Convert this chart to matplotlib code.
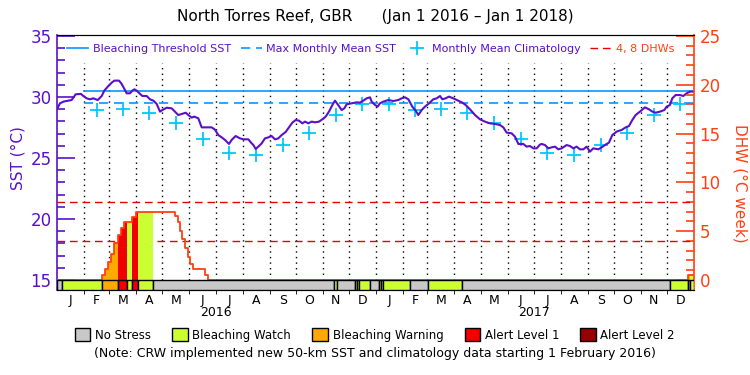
import numpy as np
import pandas as pd
import matplotlib
matplotlib.use("Agg")
from matplotlib import pyplot as plt
from matplotlib.patches import Patch
from matplotlib.ticker import FixedLocator

# Data (day 0 = Jan 1 2016)
sst_day = [0, 3.4, 7.3, 11.1, 16.8, 21.4, 27.5, 30.2, 34.0, 37.9, 41.7, 46.7, 51.3, 54.3, 58.9,
           62.7, 65.8, 71.2, 74.2, 78.0, 80.0, 83.8, 86.5, 88.8, 91.4, 95.3, 98.0, 102.9, 106.7,
           110.6, 114.4, 118.2, 120.9, 125.9, 131.6, 135.4, 139.2, 143.1, 147.7, 150.7, 154.5,
           157.6, 162.2, 166.0, 177.5, 181.3, 185.1, 189.0, 192.8, 197.4, 200.4, 205.0, 210.0,
           213.8, 219.6, 222.6, 225.3, 228.0, 231.0, 234.9, 238.7, 242.5, 246.3, 250.2, 254.0,
           257.8, 262.4, 266.2, 270.1, 273.9, 277.7, 281.5, 284.6, 288.4, 292.2, 296.1, 300.7,
           304.5, 308.3, 312.1, 316.0, 319.0, 322.1, 326.7, 329.7, 332.4, 338.1, 343.9, 347.7,
           351.5, 355.4, 359.2, 361.1, 364.9, 368.0, 370.6, 374.5, 380.2, 386.0, 391.7, 395.5,
           399.3, 403.2, 407.7, 411.6, 414.6, 418.5, 422.3, 426.9, 431.8, 435.7, 439.5, 442.2,
           446.0, 449.8, 454.8, 460.5, 465.1, 469.0, 473.9, 479.7, 485.4, 491.1, 496.9, 502.6,
           508.4, 512.2, 516.0, 521.7, 525.6, 529.4, 535.1, 538.9, 542.8, 546.6, 550.4, 554.3,
           556.2, 560.0, 563.8, 567.6, 571.5, 575.3, 579.1, 584.8, 588.7, 592.5, 596.3, 600.1,
           604.0, 607.8, 611.6, 615.4, 621.2, 625.0, 628.8, 633.4, 637.3, 642.2, 648.0, 652.6,
           656.4, 660.2, 664.0, 669.0, 674.7, 679.3, 683.2, 687.0, 692.0, 697.0, 699.6, 703.4,
           706.1, 709.9, 714.9, 718.7, 722.6, 726.4, 730.2]
sst_val = [28.99, 29.48, 29.62, 29.67, 29.75, 30.22, 30.25, 30.08, 29.89, 29.81, 29.89, 29.75, 30.08,
           30.52, 30.90, 31.17, 31.34, 31.34, 31.07, 30.57, 30.30, 30.30, 30.52, 30.63, 30.52, 30.25,
           30.08, 30.08, 29.81, 29.70, 29.43, 28.80, 28.93, 29.12, 29.07, 28.80, 28.52, 28.61, 28.71,
           28.52, 28.31, 28.39, 28.25, 27.51, 27.51, 27.32, 26.88, 26.69, 26.48, 26.15, 26.48, 26.80,
           26.61, 26.53, 26.53, 26.26, 26.07, 25.74, 25.93, 26.20, 26.61, 26.69, 26.80, 26.53, 26.61,
           26.88, 27.13, 27.51, 27.90, 28.11, 28.06, 27.84, 27.98, 27.84, 27.98, 27.92, 27.98, 28.17,
           28.39, 28.80, 29.34, 29.70, 29.40, 28.93, 29.07, 29.40, 29.48, 29.56, 29.54, 29.70, 29.89,
           29.97, 29.62, 29.35, 29.21, 29.48, 29.62, 29.75, 29.67, 29.75, 29.89, 29.97, 29.81, 29.21,
           28.88, 28.52, 28.93, 29.21, 29.48, 29.81, 29.89, 30.08, 29.81, 29.89, 30.03, 29.89, 29.70,
           29.54, 29.34, 28.99, 28.52, 28.17, 27.98, 27.84, 27.79, 27.70, 27.51, 27.08, 27.02, 26.75,
           26.15, 26.15, 25.93, 25.98, 25.79, 25.79, 26.10, 26.15, 26.06, 25.79, 25.87, 25.93, 25.71,
           25.79, 26.06, 25.98, 25.79, 25.93, 25.71, 25.71, 25.93, 25.52, 25.79, 25.71, 25.87, 26.06,
           26.26, 26.88, 27.16, 27.30, 27.51, 27.62, 28.11, 28.52, 28.80, 29.15, 28.99, 28.80, 28.71,
           28.80, 28.93, 29.21, 29.34, 29.89, 30.16, 30.16, 30.08, 30.30, 30.44, 30.44]

# monthly mean climatology, Jan..Dec
clim_val = [29.40, 28.93, 28.99, 28.71, 27.89, 26.53, 25.43, 25.25, 26.04, 27.07, 28.55, 29.45]
mmm = 29.5
threshold = 30.5

# degree heating weeks (step values starting at each day)
dhw_day = [0, 51.3, 55.0, 58.9, 62.0, 65.8, 69.6, 73.1, 76.5, 86.5, 90.3, 135.4, 138.5, 141.2,
           143.8, 146.9, 150.0, 152.6, 155.7, 170.2, 173.7, 724.5, 731]
dhw_val = [0, 0.5, 1.1, 1.8, 2.7, 3.75, 4.6, 5.3, 5.9, 6.5, 7.0, 6.59, 5.97, 5.05,
           4.16, 3.24, 2.39, 1.64, 1.09, 0.5, 0, 0.5, 0.5]

# bleaching alert level: 0 none, 1 watch, 2 warning, 3 alert 1, 4 alert 2
stress_start = [0, 5.7, 51.3, 69.6, 80, 86.5, 93.3, 110.5, 318.3, 321, 342.4, 344.3, 346.6,
                359.6, 369.9, 371.8, 374.5, 405.5, 426.1, 465.1, 703.8, 724.5, 726.4]
stress_end = stress_start[1:] + [731]
stress_level = [0, 1, 2, 3, 1, 3, 1, 0, 1, 0, 1, 0, 1, 0, 1, 0, 1, 0, 1, 0, 1, 2, 1]

level_names = ["No Stress", "Bleaching Watch", "Bleaching Warning", "Alert Level 1", "Alert Level 2"]
level_colors = ["#c8c8c8", "#ccff33", "#ffaa00", "#f00000", "#960000"]

purple = "#5a10c8"
orange = "#ff4010"
blue = "#0a96ff"
cyan = "#00c8ff"

plt.rcParams["font.family"] = ["DejaVu Sans"]

months = pd.date_range("2016-01-01", "2018-01-01", freq="MS")
mstart = np.array((months - months[0]).days, dtype=float)
mmid = (mstart[:-1] + mstart[1:]) / 2
total = mstart[-1]

fig = plt.figure(figsize=(7.5, 3.75), dpi=100)
ax = fig.add_axes([57 / 750, 1 - 290 / 375, 637 / 750, 255 / 375])
ax.set_xlim(0, total)
ax.set_ylim(14.18, 35.08)

# month dividers
ax.vlines(mstart[1:-1], 15, 32.8, colors="black", linestyles=(0, (1, 3)), lw=1, zorder=1)

# SST panel
l1, = ax.plot([mstart[1], total], [threshold, threshold], color=blue, lw=1.2,
              label="Bleaching Threshold SST", zorder=2)
l2, = ax.plot([mstart[1], total], [mmm, mmm], color=blue, lw=1.2, ls=(0, (5.5, 3.5)),
              label="Max Monthly Mean SST", zorder=2)
clim_series = clim_val[1:] + clim_val
l3, = ax.plot(mmid[1:], clim_series, ls="none", marker="+", ms=10, mew=1.3, color=cyan,
              label="Monthly Mean Climatology", zorder=3)
ax.plot(sst_day, sst_val, color=purple, lw=1.5, zorder=4)

# DHW panel on the twin axis
tw = ax.twinx()
tw.set_ylim((14.18 - 15) * 1.25, (35.08 - 15) * 1.25)
l4, = tw.plot([0, total], [4, 4], color="#e80000", lw=1, ls=(0, (5.5, 3.5)), label="4, 8 DHWs")
tw.plot([0, total], [8, 8], color="#e80000", lw=1, ls=(0, (5.5, 3.5)))

dd = np.array(dhw_day)
dv = np.array(dhw_val)
for a, b, lev in zip(stress_start, stress_end, stress_level):
    if lev == 0:
        continue
    pts = np.unique(np.concatenate([[a, b], dd[(dd > a) & (dd < b)]]))
    vals = dv[np.searchsorted(dd, pts, side="right") - 1]
    tw.fill_between(pts, 0, vals, step="post", color=level_colors[lev], lw=0, zorder=2)
tw.step(dhw_day, dhw_val, where="post", color=orange, lw=1.3, zorder=3)

# stress bar
bar_bottom = tw.get_ylim()[0]
tw.bar(stress_start, -bar_bottom, bottom=bar_bottom,
       width=np.array(stress_end) - np.array(stress_start), align="edge",
       color=[level_colors[l] for l in stress_level], edgecolor="black", lw=1, zorder=4)

# axes styling
ax.yaxis.set_major_locator(FixedLocator([15, 20, 25, 30, 35]))
ax.yaxis.set_minor_locator(FixedLocator(range(15, 36)))
ax.tick_params(axis="y", which="major", direction="in", length=13, width=1.2, colors=purple,
               labelsize=12, pad=4)
ax.tick_params(axis="y", which="minor", direction="in", length=6, width=1.2, colors=purple)
tw.yaxis.set_major_locator(FixedLocator([0, 5, 10, 15, 20, 25]))
tw.yaxis.set_minor_locator(FixedLocator(range(0, 26)))
tw.tick_params(axis="y", which="major", direction="in", length=13, width=1.2, colors=orange,
               labelsize=12, pad=4)
tw.tick_params(axis="y", which="minor", direction="in", length=6, width=1.2, colors=orange)

ax.set_xticks(mmid)
ax.set_xticklabels(list("JFMAMJJASOND") * 2)
ax.set_xticks(mstart[1:-1], minor=True)
ax.tick_params(axis="x", which="major", length=0, labelsize=9, pad=3)
ax.tick_params(axis="x", which="minor", length=3, direction="out")
for yr, d in zip(["2016", "2017"], [mstart[6], mstart[18]]):
    ax.text(d, -0.09, yr, transform=ax.get_xaxis_transform(), ha="center", va="center", fontsize=9)

ax.spines["left"].set_color(purple)
ax.spines["left"].set_linewidth(1.2)
ax.spines["right"].set_visible(False)
tw.spines["left"].set_visible(False)
tw.spines["right"].set_color(orange)
tw.spines["right"].set_linewidth(1.2)

# legends
leg = ax.legend(handles=[l1, l2, l3, l4], loc="upper left", bbox_to_anchor=(67 / 750, 1 - 44 / 375),
                bbox_transform=fig.transFigure, ncol=4, frameon=False, fontsize=8,
                handlelength=1.9, handletextpad=0.4, columnspacing=0.9, borderaxespad=0, borderpad=0)
for t, c in zip(leg.get_texts(), [purple, purple, purple, orange]):
    t.set_color(c)

patches = [Patch(facecolor=c, edgecolor="black", lw=1) for c in level_colors]
fig.legend(handles=patches, labels=level_names, loc="center", bbox_to_anchor=(0.5, 1 - 335 / 375),
           ncol=5, frameon=False, fontsize=8.5, handlelength=1.3, handleheight=1.3,
           handletextpad=0.4, columnspacing=1.8)

fig.text(0.5, 1 - 16 / 375, "North Torres Reef, GBR      (Jan 1 2016 \u2013 Jan 1 2018)",
         ha="center", va="center", fontsize=11)
fig.text(0.5, 1 - 354 / 375,
         "(Note: CRW implemented new 50-km SST and climatology data starting 1 February 2016)",
         ha="center", va="center", fontsize=9)
fig.text(18 / 750, 1 - 158 / 375, "SST (\u00b0C)", rotation=90, ha="center", va="center",
         color=purple, fontsize=11)
fig.text(740 / 750, 1 - 183 / 375, "DHW (\u00b0C week)", rotation=270, ha="center", va="center",
         color=orange, fontsize=11)

fig.savefig("out.png", dpi=100)
